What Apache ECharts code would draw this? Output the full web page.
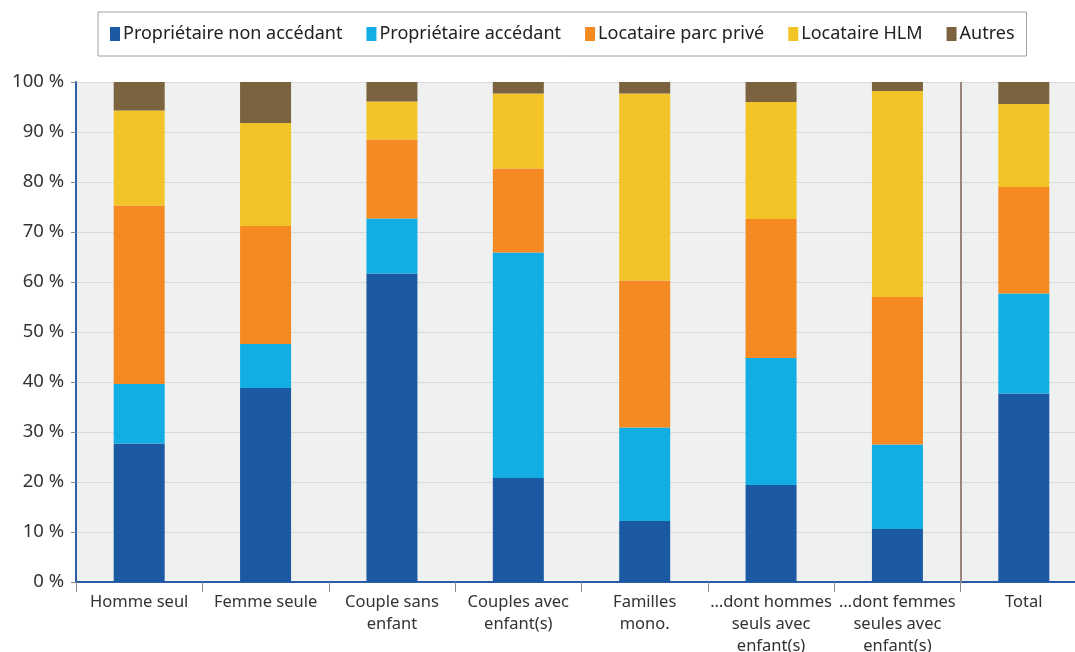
<!DOCTYPE html>
<html>
<head>
<meta charset="utf-8">
<script src="https://cdn.jsdelivr.net/npm/echarts@6/dist/echarts.min.js"></script>
<style>
  html, body { margin: 0; padding: 0; background: #fff; }
  #chart { width: 1075px; height: 652px; }
</style>
</head>
<body>
<div id="chart"></div>
<script>
// catégories de ménages
var categories = [
    'Homme seul',
    'Femme seule',
    'Couple sans\nenfant',
    'Couples avec\nenfant(s)',
    'Familles\nmono.',
    '…dont hommes\nseuls avec\nenfant(s)',
    '…dont femmes\nseules avec\nenfant(s)',
    'Total'
];
var yTicks = [0, 10, 20, 30, 40, 50, 60, 70, 80, 90, 100];

// parts en %
var propNonAccedant = [27.7, 38.8, 61.7, 20.8, 12.2, 19.4, 10.6, 37.7];
var propAccedant    = [11.9,  8.8, 11.0, 45.1, 18.7, 25.4, 16.9, 20.0];
var locPrive        = [35.7, 23.6, 15.8, 16.8, 29.4, 27.8, 29.5, 21.3];
var locHLM          = [19.0, 20.6,  7.6, 15.0, 37.4, 23.4, 41.2, 16.6];
var autres          = [ 5.7,  8.2,  3.9,  2.3,  2.3,  4.0,  1.8,  4.4];

// position de la séparation avant "Total" (en nombre de catégories)
var separatorAt = 7;

var seriesDefs = [
    { name: 'Propriétaire non accédant', data: propNonAccedant, color: '#1b5aa3' },
    { name: 'Propriétaire accédant', data: propAccedant, color: '#12ade3' },
    { name: 'Locataire parc privé', data: locPrive, color: '#f58a23' },
    { name: 'Locataire HLM', data: locHLM, color: '#f3c428' },
    { name: 'Autres', data: autres, color: '#7a633e' }
];

var font = '"Noto Sans", "Open Sans", sans-serif';
var chart = echarts.init(document.getElementById('chart'));

var series = seriesDefs.map(function (s) {
    return {
        name: s.name,
        type: 'bar',
        stack: 'total',
        barWidth: 51,
        data: s.data,
        itemStyle: { color: s.color }
    };
});

// série vide sur un axe x numérique caché, juste pour porter la ligne verticale
series.push({
    type: 'line',
    xAxisIndex: 1,
    data: [],
    silent: true,
    markLine: {
        symbol: 'none',
        silent: true,
        label: { show: false },
        lineStyle: { color: '#9b857c', width: 2, type: 'solid' },
        data: [{ xAxis: separatorAt }]
    }
});

var option = {
    animation: false,
    backgroundColor: '#ffffff',
    textStyle: { fontFamily: font },
    legend: {
        top: 12,
        left: 98,
        padding: [13, 12, 13, 12],
        borderColor: '#a0a0a0',
        borderWidth: 1,
        itemWidth: 10,
        itemHeight: 14,
        itemGap: 24,
        icon: 'rect',
        data: seriesDefs.map(function (s) { return s.name; }),
        textStyle: { color: '#222', fontSize: 18, fontFamily: font, padding: [0, 0, 0, -2] }
    },
    grid: {
        left: 76,
        top: 82,
        height: 500,
        width: 1011,
        outerBoundsMode: 'none',
        containLabel: false,
        show: true,
        backgroundColor: '#eff1f0',
        borderWidth: 0
    },
    xAxis: [{
        type: 'category',
        data: categories,
        boundaryGap: true,
        axisLine: { lineStyle: { color: '#2a5ca8', width: 2 } },
        axisTick: { show: true, length: 10, lineStyle: { color: '#8a8a8a' } },
        axisLabel: {
            interval: 0,
            color: '#333',
            fontSize: 16.5,
            lineHeight: 22,
            margin: 9,
            fontFamily: font
        },
        splitLine: { show: false }
    }, {
        type: 'value',
        min: 0,
        max: categories.length,
        show: false
    }],
    yAxis: {
        type: 'value',
        min: 0,
        max: 100,
        interval: 10,
        axisLine: { show: true, lineStyle: { color: '#2a5ca8', width: 2 } },
        axisTick: { show: true, length: 5, lineStyle: { color: '#8a8a8a' } },
        axisLabel: {
            color: '#333',
            fontSize: 18.5,
            margin: 12,
            fontFamily: font,
            formatter: function (v) { return yTicks.indexOf(v) >= 0 ? v + ' %' : ''; }
        },
        splitLine: { lineStyle: { color: '#d8dbda', width: 1 } }
    },
    series: series
};

chart.setOption(option);
</script>
</body>
</html>
